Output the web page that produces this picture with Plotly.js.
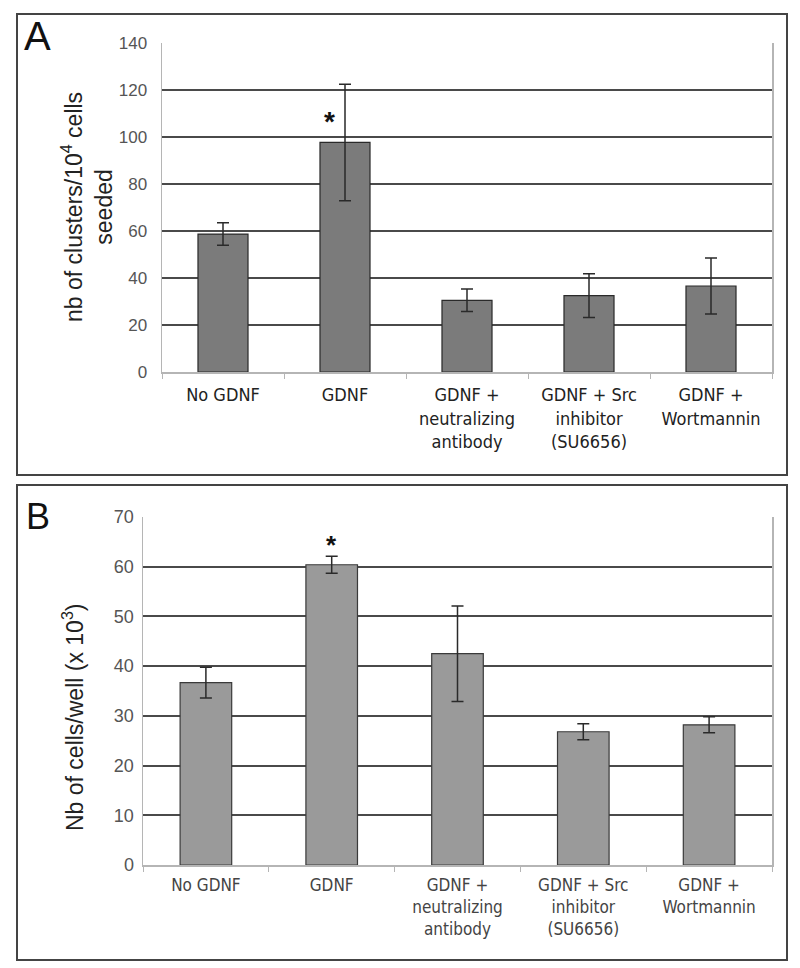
<!DOCTYPE html>
<html><head><meta charset="utf-8">
<script src="https://cdn.plot.ly/plotly-3.0.1.min.js"></script>
<style>html,body{margin:0;padding:0;background:#fff}#c{width:800px;height:968px}</style>
</head><body><div id="c"></div>
<script>
const categories = ["No GDNF", "GDNF", "GDNF +<br>neutralizing<br>antibody", "GDNF + Src<br>inhibitor<br>(SU6656)", "GDNF +<br>Wortmannin"];
const clustersMean = [58.7, 97.7, 30.5, 32.5, 36.6];
const clustersErr = [4.8, 24.8, 4.8, 9.3, 11.9];
const cellsMean = [36.7, 60.4, 42.5, 26.8, 28.2];
const cellsErr = [3.1, 1.7, 9.6, 1.6, 1.6];
const yTicksA = [0, 20, 40, 60, 80, 100, 120, 140];
const yTicksB = [0, 10, 20, 30, 40, 50, 60, 70];

const W = 800, H = 968;
const px = v => v / W, py = v => 1 - v / H;

const traceA = {
  type: 'bar', x: categories, y: clustersMean, xaxis: 'x', yaxis: 'y',
  width: 0.41,
  marker: {color: '#7b7b7b', line: {color: '#2a2a2a', width: 1.2}},
  error_y: {type: 'data', array: clustersErr, visible: true, color: '#2a2a2a', thickness: 1.5, width: 6},
  hoverinfo: 'none'
};
const traceB = {
  type: 'bar', x: categories, y: cellsMean, xaxis: 'x2', yaxis: 'y2',
  width: 0.41,
  marker: {color: '#9a9a9a', line: {color: '#3a3a3a', width: 1.2}},
  error_y: {type: 'data', array: cellsErr, visible: true, color: '#2a2a2a', thickness: 1.5, width: 6},
  hoverinfo: 'none'
};

const yCommon = {
  showgrid: true, gridcolor: '#4a4a4a', gridwidth: 2,
  zeroline: false, showline: true, mirror: true, linecolor: '#b5b5b5', linewidth: 1.5,
  ticks: '', tickfont: {family: 'Liberation Sans, Arial', size: 17, color: '#555'},
  fixedrange: true
};
const xCommon = {
  type: 'category', showgrid: false, showline: true, linecolor: '#b5b5b5', linewidth: 1.5,
  ticks: 'outside', tickson: 'boundaries', ticklen: 5, tickcolor: '#b5b5b5', tickwidth: 1,
  tickangle: 0, fixedrange: true
};

const layout = {
  width: W, height: H,
  margin: {l: 0, r: 0, t: 0, b: 0},
  paper_bgcolor: '#fff', plot_bgcolor: '#fff',
  showlegend: false,
  xaxis: Object.assign({}, xCommon, {domain: [px(162), px(772)], anchor: 'y', ticklabelstandoff: 6,
    tickfont: {family: 'DejaVu Sans Condensed, Liberation Sans, Arial', size: 18, color: '#222'}}),
  yaxis: Object.assign({}, yCommon, {domain: [py(372), py(43)], anchor: 'x', range: [0, 140],
    tickvals: yTicksA, ticklabelstandoff: 10}),
  xaxis2: Object.assign({}, xCommon, {domain: [px(143), px(772)], anchor: 'y2', ticklabelstandoff: 4,
    tickfont: {family: 'DejaVu Sans Condensed, Liberation Sans, Arial', size: 17, color: '#444'}}),
  yaxis2: Object.assign({}, yCommon, {domain: [py(865), py(517)], anchor: 'x2', range: [0, 70],
    tickvals: yTicksB, ticklabelstandoff: 4, tickfont: {family: 'Liberation Sans, Arial', size: 18, color: '#555'}}),
  shapes: [
    {type: 'rect', xref: 'paper', yref: 'paper', x0: px(17), x1: px(787), y0: py(475), y1: py(14),
     line: {color: '#444', width: 2}},
    {type: 'rect', xref: 'paper', yref: 'paper', x0: px(17), x1: px(787), y0: py(960), y1: py(485),
     line: {color: '#444', width: 2}}
  ],
  annotations: [
    {text: 'A', xref: 'paper', yref: 'paper', x: px(22), y: py(12), xanchor: 'left', yanchor: 'top',
     showarrow: false, font: {family: 'Liberation Sans, Arial', size: 40, color: '#111'}},
    {text: 'B', xref: 'paper', yref: 'paper', x: px(24), y: py(494), xanchor: 'left', yanchor: 'top',
     showarrow: false, font: {family: 'Liberation Sans, Arial', size: 36, color: '#111'}},
    {text: 'nb of clusters/10<sup>4</sup> cells<br>seeded', xref: 'paper', yref: 'paper',
     x: px(87), y: py(207), xanchor: 'center', yanchor: 'middle', textangle: -90, showarrow: false,
     font: {family: 'Liberation Sans, Arial', size: 23, color: '#222'}},
    {text: 'Nb of cells/well (x 10<sup>3</sup>)', xref: 'paper', yref: 'paper',
     x: px(73), y: py(717), xanchor: 'center', yanchor: 'middle', textangle: -90, showarrow: false,
     font: {family: 'Liberation Sans, Arial', size: 23, color: '#222'}},
    {text: '<b>*</b>', xref: 'x', yref: 'y', x: categories[1], y: clustersMean[1] + clustersErr[1] - 16,
     xshift: -16, showarrow: false, font: {family: 'Liberation Sans, Arial', size: 28, color: '#111'}},
    {text: '<b>*</b>', xref: 'x2', yref: 'y2', x: categories[1], y: cellsMean[1] + cellsErr[1] + 2.3,
     showarrow: false, font: {family: 'Liberation Sans, Arial', size: 26, color: '#111'}}
  ]
};

Plotly.newPlot('c', [traceA, traceB], layout, {staticPlot: true, displayModeBar: false});
</script></body></html>
